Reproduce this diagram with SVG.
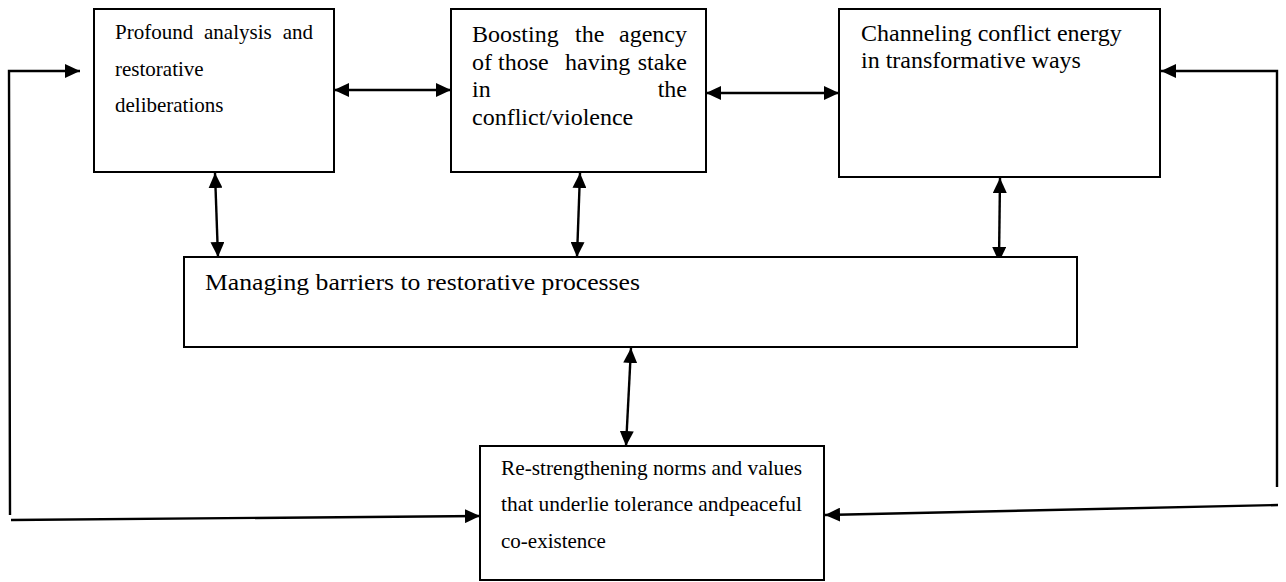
<svg xmlns="http://www.w3.org/2000/svg" width="1286" height="582" viewBox="0 0 1286 582">
<defs>
<marker id="ah" viewBox="0 0 15 14" refX="15" refY="7" markerWidth="15" markerHeight="14" markerUnits="userSpaceOnUse" orient="auto-start-reverse">
<path d="M0,0 L15,7 L0,14 Z" fill="#000"/>
</marker>
<style>
.box{fill:#fff;stroke:#000;stroke-width:2}
.t{font-family:"Liberation Serif","Times New Roman",serif;fill:#000}
.c{fill:none;stroke:#000;stroke-width:2.4}
.e{text-anchor:end}
</style>
</defs>
<rect width="1286" height="582" fill="#fff"/>
<g id="connectors">
<polyline class="c" points="10,515 9,71 80,71" marker-end="url(#ah)"/>
<line class="c" x1="11" y1="520" x2="480" y2="516" marker-end="url(#ah)"/>
<polyline class="c" points="1277,487 1277,71 1161,71" marker-end="url(#ah)"/>
<line class="c" x1="1278" y1="505" x2="825" y2="515" marker-end="url(#ah)"/>
<line class="c" x1="334" y1="90" x2="451" y2="90" marker-start="url(#ah)" marker-end="url(#ah)"/>
<line class="c" x1="706" y1="93" x2="839" y2="93" marker-start="url(#ah)" marker-end="url(#ah)"/>
<line class="c" x1="215" y1="173" x2="218" y2="257" marker-start="url(#ah)" marker-end="url(#ah)"/>
<line class="c" x1="580" y1="173" x2="577" y2="257" marker-start="url(#ah)" marker-end="url(#ah)"/>
<line class="c" x1="1000" y1="178" x2="999" y2="262" marker-start="url(#ah)" marker-end="url(#ah)"/>
<line class="c" x1="631" y1="348" x2="626" y2="446" marker-start="url(#ah)" marker-end="url(#ah)"/>
</g>
<g id="node-analysis" class="t" font-size="21">
<rect class="box" x="94" y="9" width="240" height="163"/>
<text x="115" y="39">Profound</text>
<text x="204" y="39">analysis</text>
<text class="e" x="313" y="39">and</text>
<text x="115" y="76">restorative</text>
<text x="115" y="112">deliberations</text>
</g>
<g id="node-agency" class="t" font-size="24">
<rect class="box" x="451" y="9" width="255" height="163"/>
<text x="472" y="42">Boosting</text>
<text x="575" y="42">the</text>
<text class="e" x="687" y="42">agency</text>
<text x="472" y="70">of</text>
<text x="498" y="70">those</text>
<text x="565" y="70">having</text>
<text class="e" x="687" y="70">stake</text>
<text x="472" y="97">in</text>
<text class="e" x="687" y="97">the</text>
<text x="472" y="125">conflict/violence</text>
</g>
<g id="node-channeling" class="t" font-size="24">
<rect class="box" x="839" y="9" width="321" height="168"/>
<text x="861" y="41">Channeling conflict energy</text>
<text x="861" y="68">in transformative ways</text>
</g>
<g id="node-barriers" class="t" font-size="24">
<rect class="box" x="184" y="257" width="893" height="90"/>
<text x="205" y="290" textLength="435" lengthAdjust="spacingAndGlyphs">Managing barriers to restorative processes</text>
</g>
<g id="node-norms" class="t" font-size="21">
<rect class="box" x="480" y="446" width="344" height="134"/>
<text x="501" y="475" textLength="301" lengthAdjust="spacingAndGlyphs">Re-strengthening norms and values</text>
<text x="501" y="511" textLength="301" lengthAdjust="spacingAndGlyphs">that underlie tolerance andpeaceful</text>
<text x="501" y="548">co-existence</text>
</g>
</svg>
